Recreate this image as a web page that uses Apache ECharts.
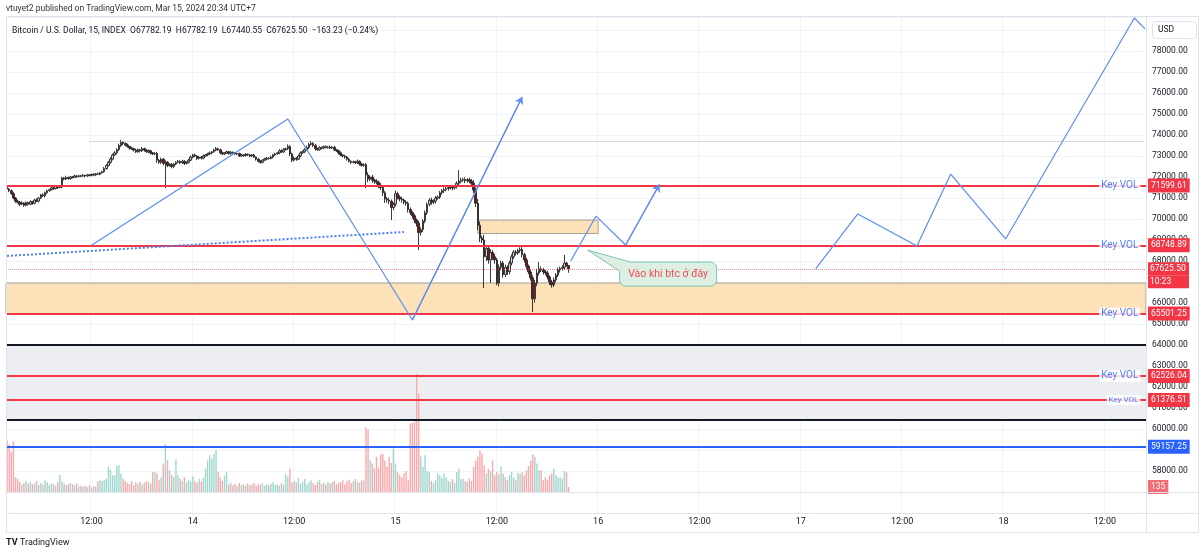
<!DOCTYPE html>
<html>
<head>
<meta charset="utf-8">
<title>BTCUSD 15</title>
<script src="https://cdn.jsdelivr.net/npm/echarts@6/dist/echarts.min.js"></script>
<style>
  html, body { margin: 0; padding: 0; background: #fff; }
  #main { width: 1200px; height: 555px; }
</style>
</head>
<body>
<div id="main"></div>
<script type="text/javascript">
    // nến 15 phút, bắt đầu 13/03 02:00
    var startTime = Date.UTC(2024, 2, 13, 2, 0);
    var slotCount = 540;
    var firstOpen = 71500;

    var closes = [
        71430, 71350, 71200, 71000, 70850, 70800, 70700, 70760, 70650, 70780,
        70700, 70820, 70750, 70900, 70850, 71000, 71150, 71100, 71250, 71350,
        71400, 71480, 71450, 71550, 71500, 71520, 71950, 71900, 71980, 71920,
        72000, 71980, 72050, 72020, 72060, 72040, 72080, 72050, 72100, 72080,
        72120, 72100, 72150, 72130, 72200, 72250, 72400, 72550, 72700, 72850,
        73050, 73150, 73300, 73500, 73650, 73600, 73520, 73450, 73380, 73350,
        73280, 73200, 73300, 73250, 73350, 73280, 73200, 73250, 73150, 73100,
        73120, 72800, 72700, 72850, 72650, 72700, 72550, 72600, 72500, 72620,
        72700, 72750, 72680, 72750, 72650, 72700, 72800, 72950, 73050, 73000,
        72880, 72950, 72900, 73000, 73050, 73100, 73150, 73200, 73280, 73350,
        73300, 73150, 73100, 73150, 73200, 73120, 73180, 73150, 73100, 73120,
        73000, 73050, 73020, 73080, 73050, 73000, 73050, 72950, 72850, 72750,
        72700, 72800, 72850, 72900, 72880, 72950, 73050, 73100, 73150, 73250,
        73200, 73300, 73350, 73450, 73100, 72800, 72900, 72850, 73000, 73150,
        73200, 73300, 73400, 73550, 73600, 73500, 73350, 73300, 73400, 73380,
        73450, 73400, 73430, 73380, 73420, 73300, 73250, 73150, 73050, 73000,
        72950, 72850, 72750, 72700, 72720, 72680, 72750, 72620, 72550, 72580,
        72100, 71900, 72000, 71850, 71800, 71750, 71600, 71500, 71250, 70950,
        70900, 70850, 70550, 70700, 71200, 71050, 70950, 70900, 70800, 70750,
        70450, 70300, 70150, 69950, 69800, 69350, 69500, 69900, 70300, 70700,
        70900, 70800, 70850, 71000, 71050, 71250, 71350, 71400, 71450, 71500,
        71520, 71480, 71550, 71700, 71800, 71850, 71880, 71820, 71870, 71800,
        71700, 71380, 70750, 69700, 69100, 69000, 68200, 68600, 68050, 68400,
        68200, 68050, 66950, 67700, 67900, 67350, 67700, 67500, 67900, 68200,
        68430, 68380, 68500, 68550, 68300, 68050, 67750, 67480, 67200, 66200,
        66950, 67430, 67620, 67570, 67480, 67430, 67240, 67000, 66860, 67100,
        67330, 67570, 67650, 67700, 67900, 67782.19, 67625.5
    ];
    // râu nến (USD trên / dưới thân nến)
    var upWick = [
        60, 40, 50, 80, 40, 70, 50, 90, 40, 60,
        50, 70, 40, 60, 80, 50, 40, 70, 60, 50,
        40, 60, 50, 70, 40, 50, 60, 50, 80, 40,
        50, 40, 60, 30, 50, 40, 60, 30, 50, 40,
        40, 50, 30, 60, 40, 50, 80, 60, 70, 90,
        60, 80, 70, 90, 120, 60, 50, 70, 40, 60,
        50, 70, 60, 40, 80, 50, 40, 60, 50, 40,
        60, 80, 50, 70, 60, 90, 60, 50, 70, 40,
        50, 60, 40, 70, 50, 40, 60, 70, 50, 60,
        40, 60, 50, 70, 40, 50, 60, 40, 70, 80,
        50, 40, 60, 30, 50, 40, 60, 30, 50, 40,
        40, 50, 30, 60, 40, 50, 40, 60, 30, 50,
        50, 40, 60, 50, 40, 70, 50, 60, 40, 70,
        60, 80, 50, 100, 70, 60, 80, 50, 60, 70,
        60, 70, 90, 80, 120, 60, 80, 50, 70, 40,
        50, 60, 40, 70, 50, 60, 40, 50, 70, 40,
        60, 50, 70, 40, 60, 50, 80, 40, 60, 70,
        90, 120, 80, 100, 70, 90, 80, 110, 70, 90,
        100, 120, 80, 90, 150, 100, 80, 110, 70, 90,
        80, 100, 70, 90, 80, 120, 100, 90, 110, 80,
        90, 120, 80, 100, 70, 90, 80, 100, 70, 90,
        80, 100, 70, 90, 530, 120, 80, 100, 70, 90,
        100, 150, 120, 200, 180, 100, 250, 150, 120, 160,
        120, 150, 100, 140, 120, 100, 130, 90, 110, 120,
        90, 100, 80, 100, 110, 90, 100, 80, 90, 120,
        150, 200, 330, 120, 100, 90, 110, 80, 100, 120,
        90, 110, 80, 100, 390, 60, 0
    ];
    var dnWick = [
        50, 70, 40, 60, 80, 60, 90, 40, 70, 50,
        60, 40, 70, 50, 40, 60, 50, 40, 70, 60,
        50, 40, 60, 50, 70, 40, 50, 60, 40, 50,
        40, 50, 30, 60, 40, 50, 30, 60, 40, 50,
        50, 40, 60, 30, 50, 40, 50, 60, 50, 70,
        60, 50, 80, 60, 70, 90, 60, 50, 80, 60,
        70, 60, 50, 80, 60, 70, 50, 60, 80, 50,
        60, 120, 70, 80, 90, 1170, 80, 60, 90, 70,
        60, 50, 70, 60, 80, 50, 60, 40, 70, 60,
        80, 50, 70, 60, 40, 60, 50, 70, 40, 50,
        60, 70, 50, 60, 40, 50, 60, 40, 50, 60,
        50, 40, 60, 50, 40, 60, 50, 40, 70, 60,
        70, 50, 40, 60, 50, 40, 60, 50, 40, 60,
        50, 60, 40, 70, 100, 90, 60, 80, 50, 60,
        50, 60, 40, 70, 60, 80, 90, 60, 50, 70,
        60, 40, 50, 60, 40, 70, 60, 80, 60, 70,
        80, 70, 60, 90, 50, 60, 70, 80, 60, 70,
        620, 150, 100, 120, 130, 100, 140, 120, 160, 180,
        120, 150, 600, 130, 100, 120, 110, 130, 100, 120,
        140, 110, 130, 150, 160, 830, 140, 120, 100, 110,
        100, 120, 90, 110, 80, 100, 90, 110, 80, 100,
        90, 110, 80, 100, 90, 100, 80, 110, 90, 100,
        120, 150, 180, 220, 200, 150, 1490, 200, 180, 1100,
        150, 180, 100, 160, 140, 150, 120, 160, 130, 110,
        100, 120, 90, 110, 130, 120, 140, 110, 130, 630,
        180, 150, 120, 100, 130, 110, 120, 140, 130, 100,
        110, 90, 120, 100, 130, 50, 184.95
    ];
    var volumes = [
        1400, 1290, 1080, 1370, 405, 350, 280, 200, 250, 300,
        220, 260, 210, 230, 290, 180, 240, 200, 310, 260,
        190, 230, 220, 170, 270, 460, 300, 220, 180, 200,
        240, 210, 180, 230, 150, 170, 140, 160, 130, 180,
        120, 150, 140, 290, 320, 300, 320, 360, 675, 600,
        450, 450, 700, 720, 500, 360, 300, 250, 220, 300,
        180, 260, 230, 280, 200, 250, 300, 270, 230, 540,
        540, 500, 320, 400, 765, 1300, 860, 585, 450, 400,
        875, 450, 350, 300, 400, 260, 330, 280, 420, 300,
        250, 350, 280, 380, 630, 850, 990, 900, 1035, 1140,
        540, 400, 300, 450, 550, 200, 250, 180, 220, 160,
        240, 190, 210, 170, 230, 180, 200, 250, 160, 210,
        190, 230, 170, 200, 180, 220, 260, 190, 210, 170,
        240, 200, 470, 420, 630, 250, 300, 250, 380, 220,
        280, 350, 200, 260, 310, 240, 190, 270, 330, 220,
        250, 200, 280, 230, 260, 300, 210, 250, 270, 320,
        200, 290, 330, 240, 300, 350, 280, 250, 310, 320,
        1740, 1690, 860, 770, 640, 950, 660, 1010, 1035, 850,
        680, 950, 780, 1180, 770, 540, 450, 400, 500, 570,
        315, 1850, 1870, 1900, 3190, 2650, 960, 680, 990, 570,
        540, 300, 250, 315, 500, 450, 380, 500, 400, 300,
        280, 350, 250, 540, 630, 350, 360, 290, 280, 360,
        300, 680, 850, 950, 1120, 1030, 720, 500, 630, 560,
        850, 450, 540, 480, 690, 500, 400, 315, 450, 540,
        380, 315, 520, 500, 540, 450, 585, 700, 850, 1010,
        950, 770, 585, 585, 315, 400, 330, 450, 500, 630,
        450, 400, 400, 350, 570, 540, 135
    ];

    var keyLevels = [71599.61, 68748.89, 65501.25, 62526.04, 61376.51];
    var lastPrice = 67625.5;
    var countdown = '10:23';
    var supportLevel = 59157.25;
    var grayBand = [60430, 64000];
    var orangeZone = [65501.25, 66950];
    var smallZone = [[223, 69950], [280, 69310]];
    var dottedHigh = [[39, 73714], [539, 73714]];

    // các đường vẽ tay (chỉ số nến, giá)
    var zigA = [[40, 68750], [133, 74760], [192, 65190], [244, 75810]];
    var zigB = [[267, 68000], [279, 70140], [293, 68760], [309, 71640]];
    var zigC = [[383, 67620], [403, 70240], [431, 68710], [447, 72140], [473, 69050], [534, 79570], [539, 79050]];
    var trendDots = [[0, 68240], [188, 69380]];
    var noteAt = [275, 68520];
    var noteText = 'Vào khi btc ở đây';

    function pad(n) { return n < 10 ? '0' + n : '' + n; }
    var times = [];
    for (var i = 0; i < slotCount; i++) {
        var d = new Date(startTime + i * 900000);
        times.push(d.getUTCDate() + ' ' + pad(d.getUTCHours()) + ':' + pad(d.getUTCMinutes()));
    }

    var candles = [], vols = [];
    var prev = firstOpen;
    for (var k = 0; k < closes.length; k++) {
        var o = prev, c = closes[k];
        candles.push([o, c, Math.min(o, c) - dnWick[k], Math.max(o, c) + upWick[k]]);
        vols.push({ value: volumes[k], itemStyle: { color: c >= o ? '#9fd6cd' : '#f9a9ac' } });
        prev = c;
    }

    var font = 'Roboto, "Noto Sans", sans-serif';
    function isGridSlot(idx) { return ((idx * 15 + 120) % 720) === 0; }
    function fmtTime(v) {
        var p = v.split(' ');
        return p[1] === '00:00' ? p[0] : p[1];
    }
    function fmtPrice(v) {
        if (v % 1000 !== 0 || v < 58000) return '';
        return v.toFixed(2);
    }
    function tag(bg) {
        return {
            show: true, position: 'end', distance: 2,
            backgroundColor: bg, color: '#fff', fontSize: 8.5, lineHeight: 10,
            padding: [2, 3], fontFamily: font
        };
    }

    var redLines = keyLevels.map(function (p) {
        var lb = tag('#f23645');
        lb.formatter = p.toFixed(2);
        return { yAxis: p, lineStyle: { color: '#f23645', width: 2, type: 'solid' }, label: lb };
    });
    var blueLb = tag('#2962ff');
    blueLb.formatter = supportLevel.toFixed(2);
    var tokenStyle = { backgroundColor: '#f23645', color: '#fff', fontSize: 8.5, width: 37, height: 13, lineHeight: 13, padding: [0, 2] };

    var option = {
        animation: false,
        backgroundColor: '#ffffff',
        textStyle: { fontFamily: font },
        grid: [
            { left: 6, right: 54, top: 17.4, bottom: 63 },
            { left: 6, right: 54, top: 292, bottom: 63 },
            { left: 6, right: 54, top: 492, bottom: 42 }
        ],
        xAxis: [
            {
                type: 'category', gridIndex: 0, data: times,
                axisLine: { show: true, lineStyle: { color: '#e0e3eb' } },
                axisTick: { show: false }, axisLabel: { show: false },
                splitLine: { show: true, interval: isGridSlot, lineStyle: { color: '#f0f3fa' } }
            },
            { type: 'category', gridIndex: 1, data: times, show: false },
            {
                type: 'category', gridIndex: 2, data: times,
                axisLine: { show: true, lineStyle: { color: '#e0e3eb' } },
                axisTick: { show: false },
                axisLabel: { interval: isGridSlot, formatter: fmtTime, fontSize: 9, color: '#131722', margin: 4 },
                splitLine: { show: true, interval: isGridSlot, lineStyle: { color: '#f0f3fa' } }
            }
        ],
        yAxis: [
            {
                type: 'value', gridIndex: 0, position: 'right',
                min: 57000, max: 79600, interval: 1000,
                axisLine: { show: true, lineStyle: { color: '#e0e3eb' } },
                axisTick: { show: false },
                axisLabel: { fontSize: 8.5, color: '#131722', margin: 6, formatter: fmtPrice, showMaxLabel: false },
                splitLine: { lineStyle: { color: '#f0f3fa' } }
            },
            { type: 'value', gridIndex: 1, min: 0, max: 5400, show: false },
            { type: 'value', gridIndex: 2, min: 0, max: 1, show: false }
        ],
        series: [
            {
                name: 'BTCUSD', type: 'candlestick', xAxisIndex: 0, yAxisIndex: 0,
                data: candles, barWidth: 2, z: 3,
                itemStyle: {
                    color: '#d6d6d6', color0: '#8b0f0f',
                    borderColor: '#262626', borderColor0: '#262626', borderWidth: 0.9
                },
                markArea: {
                    silent: true,
                    data: [
                        [{ yAxis: grayBand[0], itemStyle: { color: '#edeef1' } }, { yAxis: grayBand[1] }],
                        [{ yAxis: orangeZone[1], itemStyle: { color: '#fde1b9', borderColor: '#a8a39a', borderWidth: 1 } }, { yAxis: orangeZone[0] }],
                        [{ coord: smallZone[0], itemStyle: { color: '#fde1b9', borderColor: '#a8a39a', borderWidth: 1 } }, { coord: smallZone[1] }]
                    ]
                },
                markLine: {
                    silent: true, symbol: ['none', 'none'],
                    data: redLines.concat([
                        { yAxis: supportLevel, lineStyle: { color: '#2962ff', width: 2, type: 'solid' }, label: blueLb },
                        { yAxis: grayBand[1], lineStyle: { color: '#131722', width: 2, type: 'solid' }, label: { show: false } },
                        { yAxis: grayBand[0], lineStyle: { color: '#131722', width: 2, type: 'solid' }, label: { show: false } },
                        {
                            yAxis: lastPrice,
                            lineStyle: { color: 'rgba(242,54,69,0.6)', width: 1, type: 'dotted' },
                            label: {
                                show: true, position: 'end', distance: 2,
                                formatter: '{gap| }\n{p|' + lastPrice.toFixed(2) + '}\n{t|' + countdown + '}',
                                rich: { gap: { height: 13, lineHeight: 13 }, p: tokenStyle, t: tokenStyle }
                            }
                        },
                        [
                            { coord: dottedHigh[0], lineStyle: { color: '#b2b5be', width: 1, type: 'dotted' }, label: { show: false } },
                            { coord: dottedHigh[1] }
                        ]
                    ])
                }
            },
            {
                name: 'Volume', type: 'bar', xAxisIndex: 1, yAxisIndex: 1,
                data: vols, barWidth: 1.4, z: 2,
                markLine: {
                    silent: true, symbol: ['none', 'none'],
                    data: [{
                        yAxis: volumes[volumes.length - 1],
                        lineStyle: { color: 'rgba(0,0,0,0)', width: 0 },
                        label: { show: true, position: 'end', distance: 2, formatter: '' + volumes[volumes.length - 1],
                            backgroundColor: '#f26d76', color: '#fff', fontSize: 8.5, lineHeight: 10, padding: [2, 3] }
                    }]
                }
            },
            {
                type: 'line', xAxisIndex: 0, yAxisIndex: 0, data: zigA, showSymbol: false, z: 7,
                lineStyle: { color: '#5b8df0', width: 1.2 },
                markLine: {
                    silent: true, symbol: ['none', 'arrow'], symbolSize: 7, label: { show: false },
                    lineStyle: { color: '#5b8df0', width: 1.2, type: 'solid' },
                    data: [[{ coord: zigA[2] }, { coord: zigA[3] }]]
                }
            },
            {
                type: 'line', xAxisIndex: 0, yAxisIndex: 0, data: zigB, showSymbol: false, z: 7,
                lineStyle: { color: '#5b8df0', width: 1.2 },
                markLine: {
                    silent: true, symbol: ['none', 'arrow'], symbolSize: 7, label: { show: false },
                    lineStyle: { color: '#5b8df0', width: 1.2, type: 'solid' },
                    data: [[{ coord: zigB[2] }, { coord: zigB[3] }]]
                }
            },
            {
                type: 'line', xAxisIndex: 0, yAxisIndex: 0, data: zigC, showSymbol: false, z: 7,
                lineStyle: { color: '#5b8df0', width: 1.2 }
            },
            {
                type: 'line', xAxisIndex: 0, yAxisIndex: 0, data: trendDots, showSymbol: false, z: 7,
                lineStyle: { color: '#4d7ef7', width: 2, type: 'dotted' }
            },
            {
                type: 'scatter', xAxisIndex: 0, yAxisIndex: 0, z: 10, symbolSize: 1,
                itemStyle: { color: 'rgba(0,0,0,0)' },
                label: { show: true, position: 'left', distance: 2, formatter: 'Key VOL', color: '#2962ff',
                    fontSize: 10, backgroundColor: '#ffffff', padding: [1, 2] },
                data: keyLevels.map(function (p, j) {
                    return j === 4 ? { value: [538, p], label: { fontSize: 8 } } : { value: [538, p] };
                })
            }
        ],
        graphic: [
            { id: 'frame', type: 'rect', silent: true, z: 100,
              shape: { x: 6.5, y: 16.5, width: 1192, height: 516 }, style: { fill: 'none', stroke: '#e0e3eb' } },
            { id: 'sep1', type: 'line', silent: true, z: 100,
              shape: { x1: 6, y1: 492.5, x2: 1199, y2: 492.5 }, style: { stroke: '#e0e3eb' } },
            { id: 'sep2', type: 'line', silent: true, z: 100,
              shape: { x1: 6, y1: 513.5, x2: 1199, y2: 513.5 }, style: { stroke: '#e0e3eb' } },
            { id: 'sep3', type: 'line', silent: true, z: 100,
              shape: { x1: 1146.5, y1: 17, x2: 1146.5, y2: 532 }, style: { stroke: '#e0e3eb' } },
            { id: 'usdBox', type: 'rect', silent: true, z: 100,
              shape: { x: 1152.5, y: 21.5, width: 44, height: 17, r: 3 }, style: { fill: '#fff', stroke: '#e0e3eb' } },
            { id: 'usd', type: 'text', silent: true, z: 101, left: 1158, top: 25,
              style: { text: 'USD', fontSize: 8.5, fill: '#131722', fontFamily: font } },
            { id: 'pub', type: 'text', silent: true, left: 6, top: 4,
              style: { text: 'vtuyet2 published on TradingView.com, Mar 15, 2024 20:34 UTC+7', fontSize: 8.5, fill: '#333', fontFamily: font } },
            { id: 'legend', type: 'text', silent: true, left: 12, top: 26, z: 101,
              style: { text: 'Bitcoin / U.S. Dollar, 15, INDEX  O67782.19  H67782.19  L67440.55  C67625.50  \u2212163.23 (\u22120.24%)',
                       fontSize: 8.5, fill: '#131722', fontFamily: font } },
            { id: 'tvLogo', type: 'text', silent: true, left: 6, top: 538,
              style: { text: 'TV', fontSize: 9, fontWeight: 'bold', fill: '#131722', fontFamily: font } },
            { id: 'tvName', type: 'text', silent: true, left: 20, top: 538,
              style: { text: 'TradingView', fontSize: 9, fill: '#131722', fontFamily: font } }
        ]
    };

    var chart = echarts.init(document.getElementById('main'));
    chart.setOption(option);

    // chú thích "Vào khi btc ở đây" gắn theo toạ độ dữ liệu
    var tip = chart.convertToPixel({ gridIndex: 0 }, noteAt);
    var tx = tip[0], ty = tip[1];
    chart.setOption({
        graphic: [
            { id: 'noteShape', type: 'polygon', silent: true, z: 120,
              shape: { points: [[tx, ty], [tx + 43, ty + 12], [tx + 125, ty + 12], [tx + 129, ty + 16], [tx + 129, ty + 32],
                                [tx + 125, ty + 36], [tx + 36, ty + 36], [tx + 32, ty + 32], [tx + 32, ty + 21]] },
              style: { fill: '#dcefe2', stroke: '#7cc4b4', lineWidth: 1 } },
            { id: 'noteText', type: 'text', silent: true, z: 121, x: tx + 80.5, y: ty + 24,
              style: { text: noteText, fontSize: 10.5, fill: '#f04c5b', fontFamily: font, align: 'center', verticalAlign: 'middle' } }
        ]
    });
</script>
</body>
</html>
